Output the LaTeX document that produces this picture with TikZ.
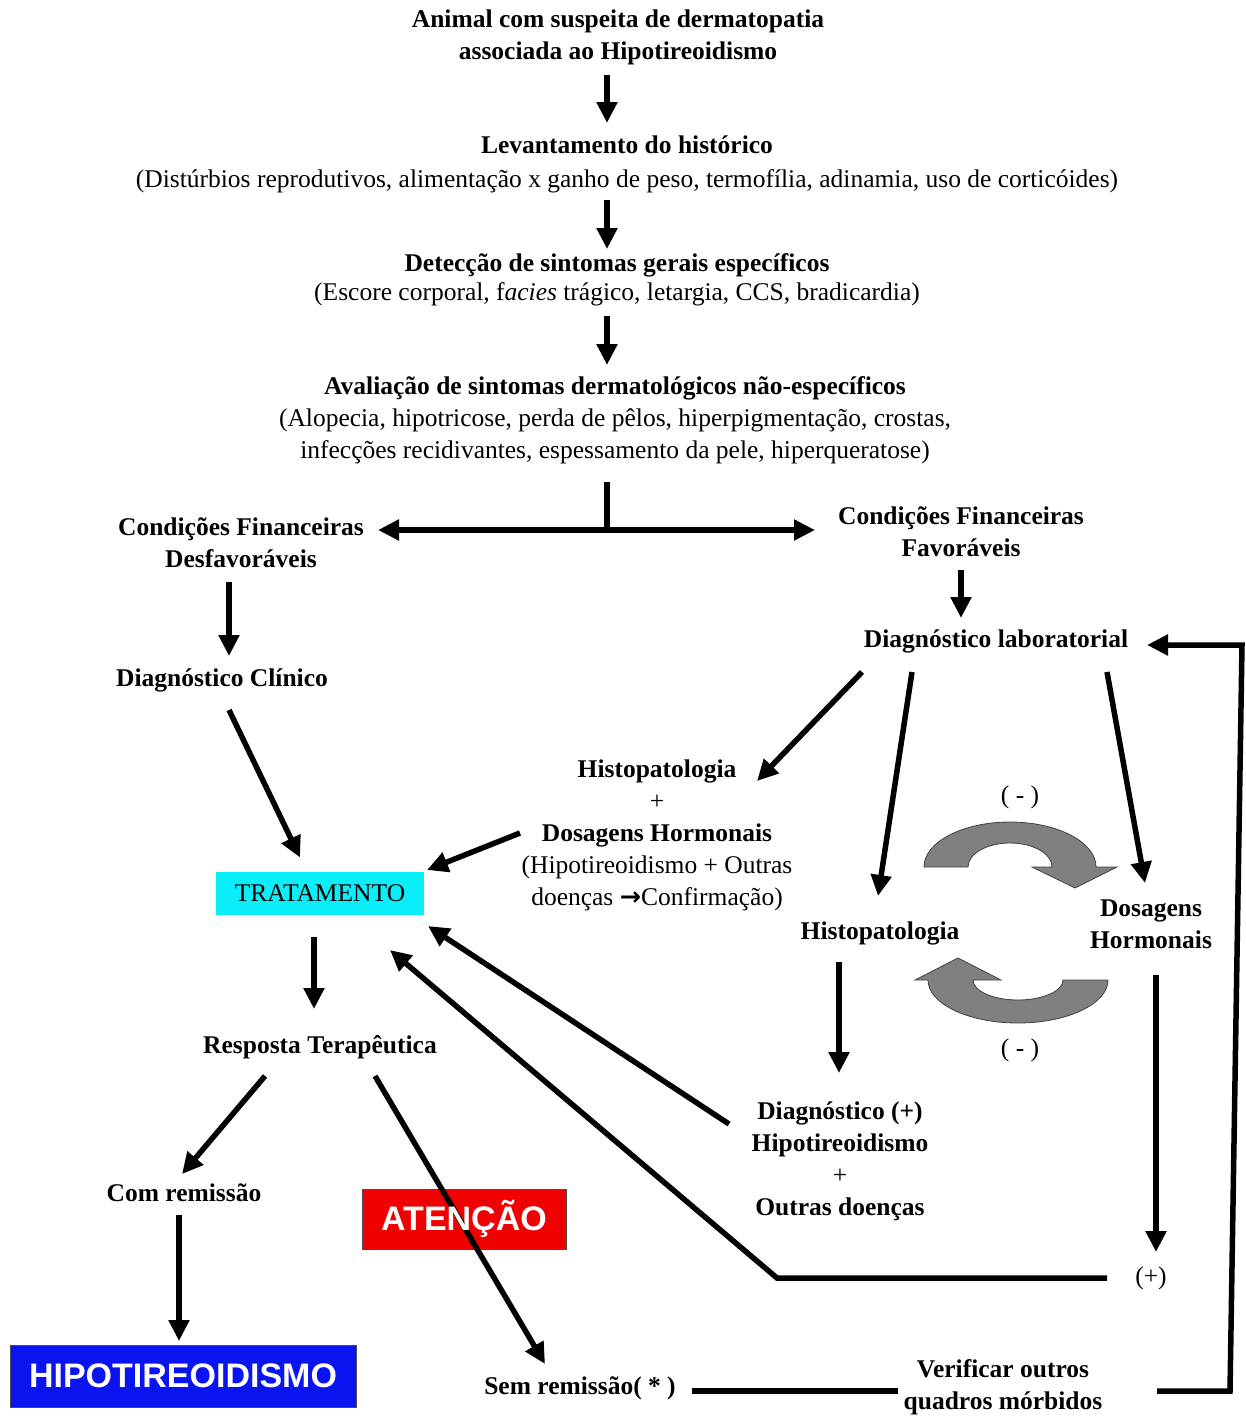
\documentclass[tikz,border=0pt]{standalone}
\usepackage{fontspec}
\setmainfont{Liberation Serif}
\newfontfamily\boxfont{Liberation Sans}
\newfontfamily\symfont{DejaVu Sans}
\usetikzlibrary{arrows.meta,calc}
\definecolor{tratcyan}{RGB}{10,238,250}
\definecolor{hipoblue}{RGB}{10,20,240}
\definecolor{atenred}{RGB}{240,0,0}
\begin{document}
\begin{tikzpicture}[x=1pt,y=-1pt,
  bt/.style={font=\fontsize{25.5}{32}\selectfont\bfseries, align=center, inner sep=0pt},
  rt/.style={font=\fontsize{25.5}{32}\selectfont, align=center, inner sep=0pt},
  arr/.style={line width=5.5pt, -{Triangle[length=21pt,width=20pt]}},
  ln/.style={line width=5.5pt},
  garrow/.style={fill=black!50, draw=black!75, line width=0.8pt},
  bigbox/.style={font=\fontsize{34}{40}\selectfont\boxfont\bfseries, text=white, inner sep=0pt, draw=black!70, line width=1pt}
]
\fill[white] (0,0) rectangle (1246,1416);
\useasboundingbox (0,0) rectangle (1246,1416);

% nodes
\node[bt] (n1) at (618,37) {Animal com suspeita de dermatopatia\\associada ao Hipotireoidismo};
\node[rt] (n2) at (627,164) {\textbf{Levantamento do histórico}\\[2pt](Distúrbios reprodutivos, alimentação x ganho de peso, termofília, adinamia, uso de corticóides)};
\node[rt] (n3) at (617,280) {\textbf{Detecção de sintomas gerais específicos}\\[-3pt](Escore corporal, f\textit{acies} trágico, letargia, CCS, bradicardia)};
\node[rt] (n4) at (615,420) {\textbf{Avaliação de sintomas dermatológicos não-específicos}\\(Alopecia, hipotricose, perda de pêlos, hiperpigmentação, crostas,\\infecções recidivantes, espessamento da pele, hiperqueratose)};
\node[bt] (n5) at (241,543) {Condições Financeiras\\Desfavoráveis};
\node[bt] (n6) at (961,532) {Condições Financeiras\\Favoráveis};
\node[bt] (n7) at (996,641) {Diagnóstico laboratorial};
\node[bt] (n8) at (222,680) {Diagnóstico Clínico};
\node[rt] (n9) at (657,835) {\textbf{Histopatologia}\\+\\\textbf{Dosagens Hormonais}\\(Hipotireoidismo + Outras\\doenças {\symfont\bfseries →}Confirmação)};
\node[rt, fill=tratcyan, minimum width=208pt, minimum height=43pt] (trat) at (320,893.5) {TRATAMENTO};
\node[bt] (n10) at (320,1047) {Resposta Terapêutica};
\node[bt] (histR) at (880,933) {Histopatologia};
\node[bt] (dosR) at (1151,924) {Dosagens\\Hormonais};
\node[rt] (n11) at (840,1161) {\textbf{Diagnóstico (+)}\\\textbf{Hipotireoidismo}\\+\\\textbf{Outras doenças}};
\node[bt] (comr) at (184,1193) {Com remissão};
\node[bigbox, fill=hipoblue, minimum width=346pt, minimum height=62pt] (hipo) at (183,1376) {HIPOTIREOIDISMO};
\node[bigbox, fill=atenred, minimum width=204pt, minimum height=60pt] (aten) at (464,1219) {};
\node[bt] (semr) at (580,1388) {Sem remissão( * )};
\node[bt] (verif) at (1003,1387) {Verificar outros\\quadros mórbidos};
\node[rt] (plusR) at (1151,1278) {(+)};
\node[rt] (m1) at (1020,797) {( - )};
\node[rt] (m2) at (1020,1050) {( - )};

% gray cycle arrows
\draw[garrow] (924,867) arc[start angle=180, end angle=360, x radius=86, y radius=45]
  -- (1117,867) -- (1075,888) -- (1032,867) -- (1052,867)
  arc[start angle=360, end angle=180, x radius=42, y radius=24] -- cycle;
\draw[garrow] (1108,980) arc[start angle=0, end angle=180, x radius=90, y radius=43]
  -- (915,980) -- (958,958) -- (1001,980) -- (973,980)
  arc[start angle=180, end angle=0, x radius=45, y radius=20] -- cycle;

% connectors
\draw[arr] ($(n1)+(-11,38)$) -- ($(n2)+(-20,-41)$);
\draw[arr] ($(n2)+(-20,36)$) -- ($(n3)+(-10,-31)$);
\draw[arr] ($(n3)+(-10,36)$) -- ($(n4)+(-8,-55)$);
\coordinate (jn) at ($(n4)+(-8,110)$);
\draw[ln] ($(n4)+(-8,62)$) -- (jn);
\draw[arr] (jn) -- ($(n5)+(137,-13)$);
\draw[arr] (jn) -- ($(n6)+(-146,-2)$);
\draw[arr] ($(n6)+(0,38)$) -- ($(n7)+(-35,-23)$);
\draw[arr] ($(n5)+(-12,39)$) -- ($(n8)+(7,-24)$);
\draw[arr] ($(n8)+(7,30)$) -- ($(trat)+(-20,-36)$);
\draw[arr] ($(n7)+(-134,31)$) -- ($(n9)+(100,-54)$);
\draw[arr] ($(n7)+(-84,31)$) -- ($(histR)+(-2,-37)$);
\draw[arr] ($(n7)+(111,31)$) -- ($(dosR)+(-6,-41)$);
\draw[arr] ($(n9)+(-137,-2)$) -- ($(trat)+(107,-23.5)$);
\draw[arr] ($(trat)+(-6,43.5)$) -- ($(n10)+(-6,-38)$);
\draw[arr] ($(histR)+(-41,29)$) -- ($(n11)+(-1,-88)$);
\draw[arr] ($(n11)+(-111,-37)$) -- ($(trat)+(108,32.5)$);
\draw[arr] ($(dosR)+(5,51)$) -- ($(plusR)+(5,-26)$);
\coordinate (bend1) at ($(plusR)+(-374,0)$);
\draw[arr] ($(plusR)+(-44,0)$) -- (bend1) -- ($(trat)+(70,56.5)$);
\draw[arr] ($(n10)+(-55,29)$) -- ($(comr)+(-2,-19)$);
\draw[arr] ($(comr)+(-5,22)$) -- ($(hipo)+(-4,-35)$);
\draw[arr] ($(n10)+(55,29)$) -- ($(semr)+(-35,-24)$);
\node[font=\fontsize{34}{40}\selectfont\boxfont\bfseries, text=white, inner sep=0pt] (atentxt) at (aten) {ATENÇÃO};
\draw[ln] ($(semr)+(112,3)$) -- ($(verif)+(-105,4)$);
\coordinate (bend2) at ($(verif)+(227,4)$);
\coordinate (bend3) at ($(n7)+(246,4)$);
\draw[arr, line join=miter] ($(verif)+(154,4)$) -- (bend2) -- (bend3) -- ($(n7)+(151,4)$);
\end{tikzpicture}
\end{document}
